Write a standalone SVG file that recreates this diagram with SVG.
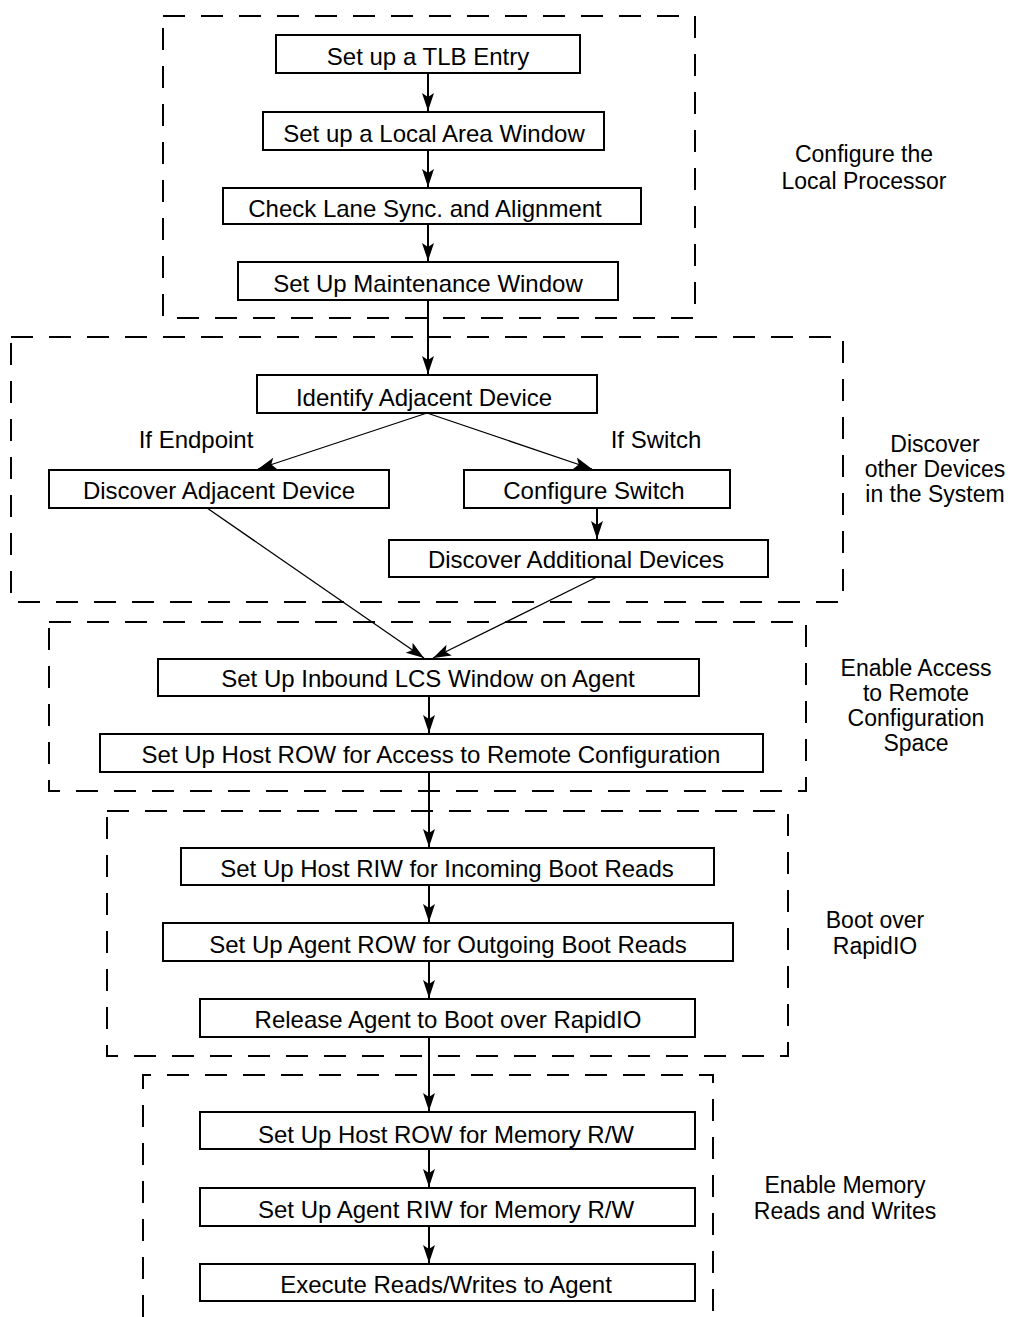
<svg xmlns="http://www.w3.org/2000/svg" width="1011" height="1317" viewBox="0 0 1011 1317">
<style>
  .grp { fill: none; stroke: #000; stroke-width: 2; stroke-dasharray: 22 16; }
  .box { fill: #fff; stroke: #000; stroke-width: 2; }
  .t { font-family: "Liberation Sans", Arial, sans-serif; font-size: 24px; fill: #000; text-anchor: middle; }
  .lbl { font-family: "Liberation Sans", Arial, sans-serif; font-size: 23px; fill: #000; text-anchor: middle; }
  .c { fill: none; stroke: #000; stroke-width: 2; marker-end: url(#ah); }
  .d { fill: none; stroke: #000; stroke-width: 1.3; marker-end: url(#ah); }
</style>
<defs>
  <marker id="ah" markerUnits="userSpaceOnUse" markerWidth="20" markerHeight="14" viewBox="-19 -7 20 14" refX="0" refY="0" orient="auto">
    <path d="M0,0 L-18,-6 L-14,0 L-18,6 Z" fill="#000"/>
  </marker>
</defs>
<rect width="1011" height="1317" fill="#fff"/>

<g id="groups">
  <g id="grp-local"><rect class="grp" x="163" y="16" width="532" height="302"/>
    <text class="lbl" x="864" y="162">Configure the</text>
    <text class="lbl" x="864" y="189">Local Processor</text></g>
  <g id="grp-discover"><rect class="grp" x="11" y="337" width="832" height="265"/>
    <text class="lbl" x="935" y="452">Discover</text>
    <text class="lbl" x="935" y="477">other Devices</text>
    <text class="lbl" x="935" y="502">in the System</text></g>
  <g id="grp-access"><rect class="grp" x="49" y="622" width="757" height="169"/>
    <text class="lbl" x="916" y="676">Enable Access</text>
    <text class="lbl" x="916" y="701">to Remote</text>
    <text class="lbl" x="916" y="726">Configuration</text>
    <text class="lbl" x="916" y="751">Space</text></g>
  <g id="grp-boot"><rect class="grp" x="107" y="811" width="681" height="245"/>
    <text class="lbl" x="875" y="928">Boot over</text>
    <text class="lbl" x="875" y="954">RapidIO</text></g>
  <g id="grp-memory"><path class="grp" d="M143,1317 V1075 H713 V1317"/>
    <text class="lbl" x="845" y="1193">Enable Memory</text>
    <text class="lbl" x="845" y="1219">Reads and Writes</text></g>
</g>

<g id="connectors">
  <line class="c" x1="428" y1="73" x2="428" y2="111"/>
  <line class="c" x1="428" y1="150" x2="428" y2="187"/>
  <line class="c" x1="428" y1="224" x2="428" y2="261"/>
  <line class="c" x1="428" y1="300" x2="428" y2="374"/>
  <line class="d" x1="427" y1="413" x2="258" y2="469"/>
  <line class="d" x1="427" y1="413" x2="592" y2="469"/>
  <line class="c" x1="597" y1="508" x2="597" y2="539"/>
  <line class="d" x1="207" y1="508" x2="424" y2="658"/>
  <line class="d" x1="597" y1="577" x2="433" y2="658"/>
  <line class="c" x1="429" y1="696" x2="429" y2="733"/>
  <line class="c" x1="429" y1="772" x2="429" y2="847"/>
  <line class="c" x1="429" y1="885" x2="429" y2="922"/>
  <line class="c" x1="429" y1="961" x2="429" y2="998"/>
  <line class="c" x1="429" y1="1037" x2="429" y2="1111"/>
  <line class="c" x1="429" y1="1149" x2="429" y2="1187"/>
  <line class="c" x1="429" y1="1226" x2="429" y2="1263"/>
  <text class="t" x="196" y="448">If Endpoint</text>
  <text class="t" x="656" y="448">If Switch</text>
</g>

<g id="n1"><rect class="box" x="276" y="35" width="304" height="38"/><text class="t" x="428" y="65">Set up a TLB Entry</text></g>
<g id="n2"><rect class="box" x="263" y="112" width="341" height="38"/><text class="t" x="434" y="142">Set up a Local Area Window</text></g>
<g id="n3"><rect class="box" x="223" y="188" width="418" height="36"/><text class="t" x="425" y="217">Check Lane Sync. and Alignment</text></g>
<g id="n4"><rect class="box" x="238" y="262" width="380" height="38"/><text class="t" x="428" y="292">Set Up Maintenance Window</text></g>
<g id="n5"><rect class="box" x="257" y="375" width="340" height="38"/><text class="t" x="424" y="406">Identify Adjacent Device</text></g>
<g id="n6"><rect class="box" x="49" y="470" width="340" height="38"/><text class="t" x="219" y="499">Discover Adjacent Device</text></g>
<g id="n7"><rect class="box" x="464" y="470" width="266" height="38"/><text class="t" x="594" y="499">Configure Switch</text></g>
<g id="n8"><rect class="box" x="389" y="540" width="379" height="37"/><text class="t" x="576" y="568">Discover Additional Devices</text></g>
<g id="n9"><rect class="box" x="158" y="659" width="541" height="37"/><text class="t" x="428" y="687">Set Up Inbound LCS Window on Agent</text></g>
<g id="n10"><rect class="box" x="100" y="734" width="663" height="38"/><text class="t" x="431" y="763">Set Up Host ROW for Access to Remote Configuration</text></g>
<g id="n11"><rect class="box" x="181" y="848" width="533" height="37"/><text class="t" x="447" y="877">Set Up Host RIW for Incoming Boot Reads</text></g>
<g id="n12"><rect class="box" x="163" y="923" width="570" height="38"/><text class="t" x="448" y="953">Set Up Agent ROW for Outgoing Boot Reads</text></g>
<g id="n13"><rect class="box" x="200" y="999" width="495" height="38"/><text class="t" x="448" y="1028">Release Agent to Boot over RapidIO</text></g>
<g id="n14"><rect class="box" x="200" y="1112" width="495" height="37"/><text class="t" x="446" y="1143">Set Up Host ROW for Memory R/W</text></g>
<g id="n15"><rect class="box" x="200" y="1188" width="495" height="38"/><text class="t" x="446" y="1218">Set Up Agent RIW for Memory R/W</text></g>
<g id="n16"><rect class="box" x="200" y="1264" width="495" height="37"/><text class="t" x="446" y="1293">Execute Reads/Writes to Agent</text></g>
</svg>
